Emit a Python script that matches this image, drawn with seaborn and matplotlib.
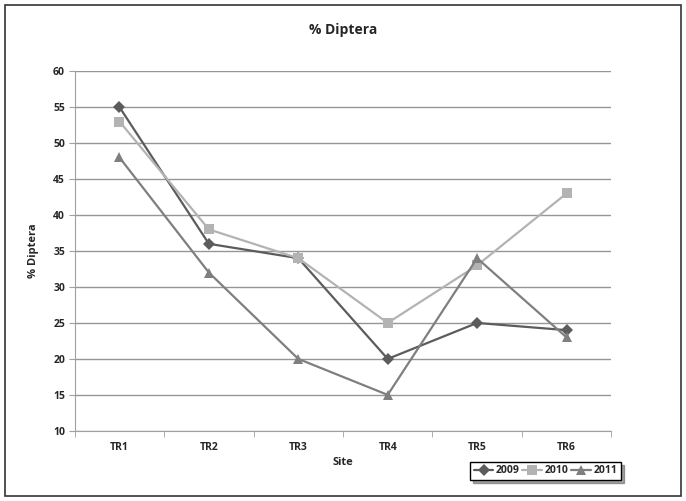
import matplotlib
matplotlib.use("Agg")
import matplotlib.pyplot as plt
import pandas as pd
import seaborn as sns
from matplotlib.patches import Rectangle

sites = ["TR1", "TR2", "TR3", "TR4", "TR5", "TR6"]
years = ["2009", "2010", "2011"]
y2009 = [55, 36, 34, 20, 25, 24]
y2010 = [53, 38, 34, 25, 33, 43]
y2011 = [48, 32, 20, 15, 34, 23]

colors = {"2009": "#5c5c5c", "2010": "#b3b3b3", "2011": "#7f7f7f"}
markers = {"2009": "D", "2010": "s", "2011": "^"}
msizes = {"2009": 6, "2010": 7, "2011": 7.5}

df = pd.DataFrame({
	"Site": sites * 3,
	"Value": y2009 + y2010 + y2011,
	"Year": [y for y in years for _ in sites],
})
df["x"] = df["Site"].map({s: i for i, s in enumerate(sites)})

sns.set_style("white")
plt.rcParams["font.family"] = ["Open Sans", "DejaVu Sans"]
plt.rcParams["font.weight"] = "bold"

fig = plt.figure(figsize=(6.86, 5.01), dpi=100)
ax = fig.add_axes([0.109, 0.140, 0.782, 0.718])

for yr in years:
	sub = df[df["Year"] == yr]
	sns.lineplot(data=sub, x="x", y="Value", ax=ax, color=colors[yr],
		marker=markers[yr], markersize=msizes[yr], markeredgewidth=0,
		linewidth=1.6, label=yr)

ax.set_xlim(-0.5, len(sites) - 0.5)
ax.set_ylim(10, 60)
ax.set_yticks(range(10, 61, 5))
ax.set_xticks(range(len(sites)))
ax.set_xticklabels(sites)
ax.set_xticks([i - 0.5 for i in range(len(sites) + 1)], minor=True)
ax.yaxis.grid(True, color="#969696", linewidth=1)
ax.set_axisbelow(True)
for side in ["top", "right"]:
	ax.spines[side].set_visible(False)
ax.spines["left"].set_color("#a0a0a0")
ax.spines["bottom"].set_color("#a0a0a0")
ax.tick_params(axis="y", length=4, color="#a0a0a0", labelsize=7.5, left=True, pad=3)
ax.tick_params(axis="x", which="major", length=0, labelsize=7.5, pad=8)
ax.tick_params(axis="x", which="minor", length=4, color="#a0a0a0", bottom=True)
for lbl in ax.get_xticklabels() + ax.get_yticklabels():
	lbl.set_fontweight("bold")

ax.set_xlabel("Site", fontsize=8, fontweight="bold", labelpad=3)
ax.set_ylabel("% Diptera", fontsize=8, fontweight="bold", labelpad=10)
fig.text(0.5, 0.94, "% Diptera", ha="center", va="center", fontsize=10, fontweight="bold")

leg = ax.legend(loc="center", bbox_to_anchor=(0.795, 0.06), bbox_transform=fig.transFigure,
	ncol=3, frameon=True, fancybox=False, shadow=True, fontsize=7.5,
	handlelength=1.9, handletextpad=0.2, columnspacing=0.3, borderpad=0.35)
leg.get_frame().set_edgecolor("black")
leg.get_frame().set_linewidth(1)
for t in leg.get_texts():
	t.set_fontweight("bold")

fig.patches.append(Rectangle((0.007, 0.01), 0.986, 0.98, transform=fig.transFigure,
	fill=False, edgecolor="#333333", linewidth=1.2))

fig.savefig("out.png", dpi=100)
